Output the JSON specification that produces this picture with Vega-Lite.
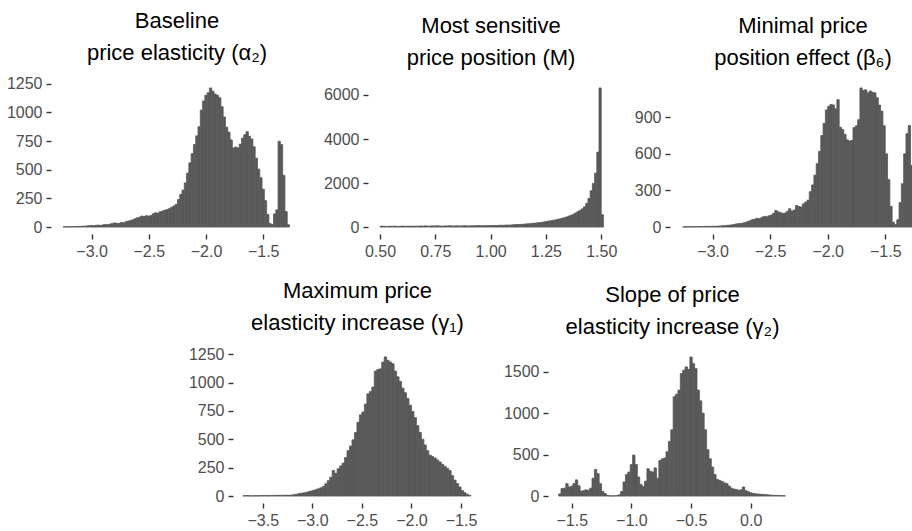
{
  "$schema": "https://vega.github.io/schema/vega-lite/v6.json",
  "background": "white",
  "padding": {"left": 6, "top": 9, "right": 0, "bottom": 0},
  "spacing": 269,
  "bounds": "flush",
  "datasets": {
    "p1": [
      {"a":-3.25,"b":-3.23,"n":3},{"a":-3.23,"b":-3.21,"n":2},{"a":-3.21,"b":-3.19,"n":4},{"a":-3.19,"b":-3.17,"n":3},{"a":-3.17,"b":-3.15,"n":5},
      {"a":-3.15,"b":-3.13,"n":4},{"a":-3.13,"b":-3.11,"n":6},{"a":-3.11,"b":-3.09,"n":5},{"a":-3.09,"b":-3.07,"n":8},{"a":-3.07,"b":-3.05,"n":7},
      {"a":-3.05,"b":-3.03,"n":10},{"a":-3.03,"b":-3.01,"n":12},{"a":-3.01,"b":-2.99,"n":14},{"a":-2.99,"b":-2.97,"n":11},{"a":-2.97,"b":-2.95,"n":15},
      {"a":-2.95,"b":-2.93,"n":17},{"a":-2.93,"b":-2.91,"n":14},{"a":-2.91,"b":-2.89,"n":19},{"a":-2.89,"b":-2.87,"n":22},{"a":-2.87,"b":-2.85,"n":20},
      {"a":-2.85,"b":-2.83,"n":26},{"a":-2.83,"b":-2.81,"n":30},{"a":-2.81,"b":-2.79,"n":36},{"a":-2.79,"b":-2.77,"n":33},{"a":-2.77,"b":-2.75,"n":31},
      {"a":-2.75,"b":-2.73,"n":40},{"a":-2.73,"b":-2.71,"n":37},{"a":-2.71,"b":-2.69,"n":46},{"a":-2.69,"b":-2.67,"n":52},{"a":-2.67,"b":-2.65,"n":56},
      {"a":-2.65,"b":-2.63,"n":63},{"a":-2.63,"b":-2.61,"n":72},{"a":-2.61,"b":-2.59,"n":80},{"a":-2.59,"b":-2.57,"n":86},{"a":-2.57,"b":-2.55,"n":96},
      {"a":-2.55,"b":-2.53,"n":92},{"a":-2.53,"b":-2.51,"n":99},{"a":-2.51,"b":-2.49,"n":95},{"a":-2.49,"b":-2.47,"n":101},{"a":-2.47,"b":-2.45,"n":116},
      {"a":-2.45,"b":-2.43,"n":124},{"a":-2.43,"b":-2.41,"n":121},{"a":-2.41,"b":-2.39,"n":133},{"a":-2.39,"b":-2.37,"n":140},{"a":-2.37,"b":-2.35,"n":147},
      {"a":-2.35,"b":-2.33,"n":152},{"a":-2.33,"b":-2.31,"n":160},{"a":-2.31,"b":-2.29,"n":172},{"a":-2.29,"b":-2.27,"n":184},{"a":-2.27,"b":-2.25,"n":198},
      {"a":-2.25,"b":-2.23,"n":240},{"a":-2.23,"b":-2.21,"n":285},{"a":-2.21,"b":-2.19,"n":322},{"a":-2.19,"b":-2.17,"n":385},{"a":-2.17,"b":-2.15,"n":470},
      {"a":-2.15,"b":-2.13,"n":560},{"a":-2.13,"b":-2.11,"n":640},{"a":-2.11,"b":-2.09,"n":720},{"a":-2.09,"b":-2.07,"n":795},{"a":-2.07,"b":-2.05,"n":875},
      {"a":-2.05,"b":-2.03,"n":1020},{"a":-2.03,"b":-2.01,"n":1100},{"a":-2.01,"b":-1.99,"n":1150},{"a":-1.99,"b":-1.97,"n":1172},{"a":-1.97,"b":-1.95,"n":1213},
      {"a":-1.95,"b":-1.93,"n":1185},{"a":-1.93,"b":-1.91,"n":1160},{"a":-1.91,"b":-1.89,"n":1150},{"a":-1.89,"b":-1.87,"n":1128},{"a":-1.87,"b":-1.85,"n":1050},
      {"a":-1.85,"b":-1.83,"n":960},{"a":-1.83,"b":-1.81,"n":870},{"a":-1.81,"b":-1.79,"n":828},{"a":-1.79,"b":-1.77,"n":760},{"a":-1.77,"b":-1.75,"n":690},
      {"a":-1.75,"b":-1.73,"n":698},{"a":-1.73,"b":-1.71,"n":690},{"a":-1.71,"b":-1.69,"n":722},{"a":-1.69,"b":-1.67,"n":775},{"a":-1.67,"b":-1.65,"n":805},
      {"a":-1.65,"b":-1.63,"n":832},{"a":-1.63,"b":-1.61,"n":792},{"a":-1.61,"b":-1.59,"n":768},{"a":-1.59,"b":-1.57,"n":700},{"a":-1.57,"b":-1.55,"n":600},
      {"a":-1.55,"b":-1.53,"n":505},{"a":-1.53,"b":-1.51,"n":430},{"a":-1.51,"b":-1.49,"n":330},{"a":-1.49,"b":-1.47,"n":230},{"a":-1.47,"b":-1.45,"n":110},
      {"a":-1.45,"b":-1.43,"n":30},{"a":-1.43,"b":-1.41,"n":22},{"a":-1.41,"b":-1.39,"n":115},{"a":-1.39,"b":-1.37,"n":150},{"a":-1.37,"b":-1.35,"n":748},
      {"a":-1.35,"b":-1.33,"n":720},{"a":-1.33,"b":-1.31,"n":450},{"a":-1.31,"b":-1.29,"n":135},{"a":-1.29,"b":-1.27,"n":20}
    ],
    "p2": [
      {"a":0.50,"b":0.51,"n":35},{"a":0.51,"b":0.52,"n":40},{"a":0.52,"b":0.53,"n":30},{"a":0.53,"b":0.54,"n":25},{"a":0.54,"b":0.55,"n":38},
      {"a":0.55,"b":0.56,"n":30},{"a":0.56,"b":0.57,"n":42},{"a":0.57,"b":0.58,"n":35},{"a":0.58,"b":0.59,"n":28},{"a":0.59,"b":0.60,"n":40},
      {"a":0.60,"b":0.61,"n":45},{"a":0.61,"b":0.62,"n":33},{"a":0.62,"b":0.63,"n":38},{"a":0.63,"b":0.64,"n":40},{"a":0.64,"b":0.65,"n":35},
      {"a":0.65,"b":0.66,"n":45},{"a":0.66,"b":0.67,"n":38},{"a":0.67,"b":0.68,"n":42},{"a":0.68,"b":0.69,"n":50},{"a":0.69,"b":0.70,"n":40},
      {"a":0.70,"b":0.71,"n":55},{"a":0.71,"b":0.72,"n":45},{"a":0.72,"b":0.73,"n":40},{"a":0.73,"b":0.74,"n":52},{"a":0.74,"b":0.75,"n":48},
      {"a":0.75,"b":0.76,"n":60},{"a":0.76,"b":0.77,"n":50},{"a":0.77,"b":0.78,"n":45},{"a":0.78,"b":0.79,"n":40},{"a":0.79,"b":0.80,"n":55},
      {"a":0.80,"b":0.81,"n":48},{"a":0.81,"b":0.82,"n":62},{"a":0.82,"b":0.83,"n":50},{"a":0.83,"b":0.84,"n":45},{"a":0.84,"b":0.85,"n":58},
      {"a":0.85,"b":0.86,"n":52},{"a":0.86,"b":0.87,"n":48},{"a":0.87,"b":0.88,"n":55},{"a":0.88,"b":0.89,"n":60},{"a":0.89,"b":0.90,"n":50},
      {"a":0.90,"b":0.91,"n":52},{"a":0.91,"b":0.92,"n":58},{"a":0.92,"b":0.93,"n":55},{"a":0.93,"b":0.94,"n":60},{"a":0.94,"b":0.95,"n":65},
      {"a":0.95,"b":0.96,"n":58},{"a":0.96,"b":0.97,"n":62},{"a":0.97,"b":0.98,"n":60},{"a":0.98,"b":0.99,"n":66},{"a":0.99,"b":1.00,"n":68},
      {"a":1.00,"b":1.01,"n":70},{"a":1.01,"b":1.02,"n":72},{"a":1.02,"b":1.03,"n":68},{"a":1.03,"b":1.04,"n":75},{"a":1.04,"b":1.05,"n":80},
      {"a":1.05,"b":1.06,"n":78},{"a":1.06,"b":1.07,"n":85},{"a":1.07,"b":1.08,"n":90},{"a":1.08,"b":1.09,"n":88},{"a":1.09,"b":1.10,"n":95},
      {"a":1.10,"b":1.11,"n":105},{"a":1.11,"b":1.12,"n":110},{"a":1.12,"b":1.13,"n":115},{"a":1.13,"b":1.14,"n":120},{"a":1.14,"b":1.15,"n":128},
      {"a":1.15,"b":1.16,"n":135},{"a":1.16,"b":1.17,"n":145},{"a":1.17,"b":1.18,"n":150},{"a":1.18,"b":1.19,"n":160},{"a":1.19,"b":1.20,"n":170},
      {"a":1.20,"b":1.21,"n":180},{"a":1.21,"b":1.22,"n":195},{"a":1.22,"b":1.23,"n":205},{"a":1.23,"b":1.24,"n":220},{"a":1.24,"b":1.25,"n":235},
      {"a":1.25,"b":1.26,"n":260},{"a":1.26,"b":1.27,"n":275},{"a":1.27,"b":1.28,"n":290},{"a":1.28,"b":1.29,"n":310},{"a":1.29,"b":1.30,"n":330},
      {"a":1.30,"b":1.31,"n":350},{"a":1.31,"b":1.32,"n":375},{"a":1.32,"b":1.33,"n":400},{"a":1.33,"b":1.34,"n":430},{"a":1.34,"b":1.35,"n":460},
      {"a":1.35,"b":1.36,"n":500},{"a":1.36,"b":1.37,"n":540},{"a":1.37,"b":1.38,"n":580},{"a":1.38,"b":1.39,"n":640},{"a":1.39,"b":1.40,"n":700},
      {"a":1.40,"b":1.41,"n":760},{"a":1.41,"b":1.42,"n":830},{"a":1.42,"b":1.43,"n":920},{"a":1.43,"b":1.44,"n":1080},{"a":1.44,"b":1.45,"n":1300},
      {"a":1.45,"b":1.46,"n":1650},{"a":1.46,"b":1.47,"n":1980},{"a":1.47,"b":1.48,"n":2450},{"a":1.48,"b":1.49,"n":3400},{"a":1.49,"b":1.50,"n":6320},
      {"a":1.50,"b":1.51,"n":560}
    ],
    "p3": [
      {"a":-3.26,"b":-3.24,"n":2},{"a":-3.24,"b":-3.22,"n":3},{"a":-3.22,"b":-3.20,"n":2},{"a":-3.20,"b":-3.18,"n":3},{"a":-3.18,"b":-3.16,"n":4},
      {"a":-3.16,"b":-3.14,"n":3},{"a":-3.14,"b":-3.12,"n":4},{"a":-3.12,"b":-3.10,"n":5},{"a":-3.10,"b":-3.08,"n":4},{"a":-3.08,"b":-3.06,"n":5},
      {"a":-3.06,"b":-3.04,"n":6},{"a":-3.04,"b":-3.02,"n":5},{"a":-3.02,"b":-3.00,"n":6},{"a":-3.00,"b":-2.98,"n":7},{"a":-2.98,"b":-2.96,"n":6},
      {"a":-2.96,"b":-2.94,"n":8},{"a":-2.94,"b":-2.92,"n":9},{"a":-2.92,"b":-2.90,"n":11},{"a":-2.90,"b":-2.88,"n":12},{"a":-2.88,"b":-2.86,"n":14},
      {"a":-2.86,"b":-2.84,"n":16},{"a":-2.84,"b":-2.82,"n":18},{"a":-2.82,"b":-2.80,"n":22},{"a":-2.80,"b":-2.78,"n":26},{"a":-2.78,"b":-2.76,"n":28},
      {"a":-2.76,"b":-2.74,"n":30},{"a":-2.74,"b":-2.72,"n":34},{"a":-2.72,"b":-2.70,"n":40},{"a":-2.70,"b":-2.68,"n":46},{"a":-2.68,"b":-2.66,"n":54},
      {"a":-2.66,"b":-2.64,"n":60},{"a":-2.64,"b":-2.62,"n":66},{"a":-2.62,"b":-2.60,"n":72},{"a":-2.60,"b":-2.58,"n":68},{"a":-2.58,"b":-2.56,"n":80},
      {"a":-2.56,"b":-2.54,"n":88},{"a":-2.54,"b":-2.52,"n":84},{"a":-2.52,"b":-2.50,"n":92},{"a":-2.50,"b":-2.48,"n":98},{"a":-2.48,"b":-2.46,"n":112},
      {"a":-2.46,"b":-2.44,"n":136},{"a":-2.44,"b":-2.42,"n":125},{"a":-2.42,"b":-2.40,"n":118},{"a":-2.40,"b":-2.38,"n":112},{"a":-2.38,"b":-2.36,"n":115},
      {"a":-2.36,"b":-2.34,"n":128},{"a":-2.34,"b":-2.32,"n":150},{"a":-2.32,"b":-2.30,"n":132},{"a":-2.30,"b":-2.28,"n":140},{"a":-2.28,"b":-2.26,"n":176},
      {"a":-2.26,"b":-2.24,"n":168},{"a":-2.24,"b":-2.22,"n":165},{"a":-2.22,"b":-2.20,"n":190},{"a":-2.20,"b":-2.18,"n":205},{"a":-2.18,"b":-2.16,"n":220},
      {"a":-2.16,"b":-2.14,"n":290},{"a":-2.14,"b":-2.12,"n":345},{"a":-2.12,"b":-2.10,"n":425},{"a":-2.10,"b":-2.08,"n":520},{"a":-2.08,"b":-2.06,"n":620},
      {"a":-2.06,"b":-2.04,"n":750},{"a":-2.04,"b":-2.02,"n":850},{"a":-2.02,"b":-2.00,"n":960},{"a":-2.00,"b":-1.98,"n":990},{"a":-1.98,"b":-1.96,"n":1005},
      {"a":-1.96,"b":-1.94,"n":1000},{"a":-1.94,"b":-1.92,"n":968},{"a":-1.92,"b":-1.90,"n":1044},{"a":-1.90,"b":-1.88,"n":818},{"a":-1.88,"b":-1.86,"n":800},
      {"a":-1.86,"b":-1.84,"n":760},{"a":-1.84,"b":-1.82,"n":715},{"a":-1.82,"b":-1.80,"n":705},{"a":-1.80,"b":-1.78,"n":710},{"a":-1.78,"b":-1.76,"n":815},
      {"a":-1.76,"b":-1.74,"n":830},{"a":-1.74,"b":-1.72,"n":880},{"a":-1.72,"b":-1.70,"n":1140},{"a":-1.70,"b":-1.68,"n":1120},{"a":-1.68,"b":-1.66,"n":1125},
      {"a":-1.66,"b":-1.64,"n":1100},{"a":-1.64,"b":-1.62,"n":1115},{"a":-1.62,"b":-1.60,"n":1105},{"a":-1.60,"b":-1.58,"n":1100},{"a":-1.58,"b":-1.56,"n":1060},
      {"a":-1.56,"b":-1.54,"n":1000},{"a":-1.54,"b":-1.52,"n":950},{"a":-1.52,"b":-1.50,"n":830},{"a":-1.50,"b":-1.48,"n":600},{"a":-1.48,"b":-1.46,"n":390},
      {"a":-1.46,"b":-1.44,"n":170},{"a":-1.44,"b":-1.42,"n":40},{"a":-1.42,"b":-1.40,"n":20},{"a":-1.40,"b":-1.38,"n":60},{"a":-1.38,"b":-1.36,"n":200},
      {"a":-1.36,"b":-1.34,"n":355},{"a":-1.34,"b":-1.32,"n":600},{"a":-1.32,"b":-1.30,"n":765},{"a":-1.30,"b":-1.28,"n":832},{"a":-1.28,"b":-1.26,"n":505}
    ],
    "p4": [
      {"a":-3.700,"b":-3.675,"n":3},{"a":-3.675,"b":-3.650,"n":4},{"a":-3.650,"b":-3.625,"n":3},{"a":-3.625,"b":-3.600,"n":2},
      {"a":-3.600,"b":-3.575,"n":3},{"a":-3.575,"b":-3.550,"n":4},{"a":-3.550,"b":-3.525,"n":3},{"a":-3.525,"b":-3.500,"n":5},
      {"a":-3.500,"b":-3.475,"n":4},{"a":-3.475,"b":-3.450,"n":5},{"a":-3.450,"b":-3.425,"n":4},{"a":-3.425,"b":-3.400,"n":6},
      {"a":-3.400,"b":-3.375,"n":5},{"a":-3.375,"b":-3.350,"n":6},{"a":-3.350,"b":-3.325,"n":7},{"a":-3.325,"b":-3.300,"n":6},
      {"a":-3.300,"b":-3.275,"n":7},{"a":-3.275,"b":-3.250,"n":8},{"a":-3.250,"b":-3.225,"n":7},{"a":-3.225,"b":-3.200,"n":8},
      {"a":-3.200,"b":-3.175,"n":12},{"a":-3.175,"b":-3.150,"n":15},{"a":-3.150,"b":-3.125,"n":20},{"a":-3.125,"b":-3.100,"n":24},
      {"a":-3.100,"b":-3.075,"n":28},{"a":-3.075,"b":-3.050,"n":30},{"a":-3.050,"b":-3.025,"n":38},{"a":-3.025,"b":-3.000,"n":44},
      {"a":-3.000,"b":-2.975,"n":50},{"a":-2.975,"b":-2.950,"n":56},{"a":-2.950,"b":-2.925,"n":64},{"a":-2.925,"b":-2.900,"n":72},
      {"a":-2.900,"b":-2.875,"n":84},{"a":-2.875,"b":-2.850,"n":108},{"a":-2.850,"b":-2.825,"n":135},{"a":-2.825,"b":-2.800,"n":165},
      {"a":-2.800,"b":-2.775,"n":225},{"a":-2.775,"b":-2.750,"n":200},{"a":-2.750,"b":-2.725,"n":240},{"a":-2.725,"b":-2.700,"n":265},
      {"a":-2.700,"b":-2.675,"n":290},{"a":-2.675,"b":-2.650,"n":340},{"a":-2.650,"b":-2.625,"n":400},{"a":-2.625,"b":-2.600,"n":440},
      {"a":-2.600,"b":-2.575,"n":495},{"a":-2.575,"b":-2.550,"n":560},{"a":-2.550,"b":-2.525,"n":650},{"a":-2.525,"b":-2.500,"n":715},
      {"a":-2.500,"b":-2.475,"n":740},{"a":-2.475,"b":-2.450,"n":810},{"a":-2.450,"b":-2.425,"n":900},{"a":-2.425,"b":-2.400,"n":920},
      {"a":-2.400,"b":-2.375,"n":960},{"a":-2.375,"b":-2.350,"n":1100},{"a":-2.350,"b":-2.325,"n":1115},{"a":-2.325,"b":-2.300,"n":1120},
      {"a":-2.300,"b":-2.275,"n":1180},{"a":-2.275,"b":-2.250,"n":1225},{"a":-2.250,"b":-2.225,"n":1195},{"a":-2.225,"b":-2.200,"n":1180},
      {"a":-2.200,"b":-2.175,"n":1165},{"a":-2.175,"b":-2.150,"n":1100},{"a":-2.150,"b":-2.125,"n":1050},{"a":-2.125,"b":-2.100,"n":1010},
      {"a":-2.100,"b":-2.075,"n":950},{"a":-2.075,"b":-2.050,"n":910},{"a":-2.050,"b":-2.025,"n":860},{"a":-2.025,"b":-2.000,"n":800},
      {"a":-2.000,"b":-1.975,"n":745},{"a":-1.975,"b":-1.950,"n":690},{"a":-1.950,"b":-1.925,"n":620},{"a":-1.925,"b":-1.900,"n":560},
      {"a":-1.900,"b":-1.875,"n":500},{"a":-1.875,"b":-1.850,"n":450},{"a":-1.850,"b":-1.825,"n":400},{"a":-1.825,"b":-1.800,"n":360},
      {"a":-1.800,"b":-1.775,"n":348},{"a":-1.775,"b":-1.750,"n":335},{"a":-1.750,"b":-1.725,"n":318},{"a":-1.725,"b":-1.700,"n":300},
      {"a":-1.700,"b":-1.675,"n":280},{"a":-1.675,"b":-1.650,"n":262},{"a":-1.650,"b":-1.625,"n":245},{"a":-1.625,"b":-1.600,"n":225},
      {"a":-1.600,"b":-1.575,"n":180},{"a":-1.575,"b":-1.550,"n":140},{"a":-1.550,"b":-1.525,"n":110},{"a":-1.525,"b":-1.500,"n":80},
      {"a":-1.500,"b":-1.475,"n":48},{"a":-1.475,"b":-1.450,"n":30},{"a":-1.450,"b":-1.425,"n":16},{"a":-1.425,"b":-1.400,"n":6}
    ],
    "p5": [
      {"a":-1.61,"b":-1.59,"n":25},{"a":-1.59,"b":-1.57,"n":90},{"a":-1.57,"b":-1.55,"n":95},{"a":-1.55,"b":-1.53,"n":150},{"a":-1.53,"b":-1.51,"n":110},
      {"a":-1.51,"b":-1.49,"n":120},{"a":-1.49,"b":-1.47,"n":150},{"a":-1.47,"b":-1.45,"n":195},{"a":-1.45,"b":-1.43,"n":125},{"a":-1.43,"b":-1.41,"n":60},
      {"a":-1.41,"b":-1.39,"n":65},{"a":-1.39,"b":-1.37,"n":75},{"a":-1.37,"b":-1.35,"n":70},{"a":-1.35,"b":-1.33,"n":95},{"a":-1.33,"b":-1.31,"n":215},
      {"a":-1.31,"b":-1.29,"n":322},{"a":-1.29,"b":-1.27,"n":270},{"a":-1.27,"b":-1.25,"n":150},{"a":-1.25,"b":-1.23,"n":55},{"a":-1.23,"b":-1.21,"n":30},
      {"a":-1.21,"b":-1.19,"n":10},{"a":-1.19,"b":-1.17,"n":3},{"a":-1.17,"b":-1.15,"n":2},{"a":-1.15,"b":-1.13,"n":3},{"a":-1.13,"b":-1.11,"n":5},
      {"a":-1.11,"b":-1.09,"n":15},{"a":-1.09,"b":-1.07,"n":55},{"a":-1.07,"b":-1.05,"n":170},{"a":-1.05,"b":-1.03,"n":260},{"a":-1.03,"b":-1.01,"n":290},
      {"a":-1.01,"b":-0.99,"n":380},{"a":-0.99,"b":-0.97,"n":495},{"a":-0.97,"b":-0.95,"n":380},{"a":-0.95,"b":-0.93,"n":230},{"a":-0.93,"b":-0.91,"n":140},
      {"a":-0.91,"b":-0.89,"n":115},{"a":-0.89,"b":-0.87,"n":180},{"a":-0.87,"b":-0.85,"n":330},{"a":-0.85,"b":-0.83,"n":300},{"a":-0.83,"b":-0.81,"n":290},
      {"a":-0.81,"b":-0.79,"n":340},{"a":-0.79,"b":-0.77,"n":215},{"a":-0.77,"b":-0.75,"n":430},{"a":-0.75,"b":-0.73,"n":450},{"a":-0.73,"b":-0.71,"n":460},
      {"a":-0.71,"b":-0.69,"n":535},{"a":-0.69,"b":-0.67,"n":660},{"a":-0.67,"b":-0.65,"n":800},{"a":-0.65,"b":-0.63,"n":1200},{"a":-0.63,"b":-0.61,"n":1230},
      {"a":-0.61,"b":-0.59,"n":1280},{"a":-0.59,"b":-0.57,"n":1480},{"a":-0.57,"b":-0.55,"n":1520},{"a":-0.55,"b":-0.53,"n":1560},{"a":-0.53,"b":-0.51,"n":1530},
      {"a":-0.51,"b":-0.49,"n":1680},{"a":-0.49,"b":-0.47,"n":1600},{"a":-0.47,"b":-0.45,"n":1540},{"a":-0.45,"b":-0.43,"n":1280},{"a":-0.43,"b":-0.41,"n":1150},
      {"a":-0.41,"b":-0.39,"n":1000},{"a":-0.39,"b":-0.37,"n":800},{"a":-0.37,"b":-0.35,"n":560},{"a":-0.35,"b":-0.33,"n":450},{"a":-0.33,"b":-0.31,"n":350},
      {"a":-0.31,"b":-0.29,"n":260},{"a":-0.29,"b":-0.27,"n":200},{"a":-0.27,"b":-0.25,"n":190},{"a":-0.25,"b":-0.23,"n":175},{"a":-0.23,"b":-0.21,"n":160},
      {"a":-0.21,"b":-0.19,"n":150},{"a":-0.19,"b":-0.17,"n":120},{"a":-0.17,"b":-0.15,"n":95},{"a":-0.15,"b":-0.13,"n":85},{"a":-0.13,"b":-0.11,"n":80},
      {"a":-0.11,"b":-0.09,"n":70},{"a":-0.09,"b":-0.07,"n":75},{"a":-0.07,"b":-0.05,"n":110},{"a":-0.05,"b":-0.03,"n":65},{"a":-0.03,"b":-0.01,"n":52},
      {"a":-0.01,"b":0.01,"n":40},{"a":0.01,"b":0.03,"n":32},{"a":0.03,"b":0.05,"n":28},{"a":0.05,"b":0.07,"n":24},{"a":0.07,"b":0.09,"n":22},
      {"a":0.09,"b":0.11,"n":20},{"a":0.11,"b":0.13,"n":18},{"a":0.13,"b":0.15,"n":15},{"a":0.15,"b":0.17,"n":12},{"a":0.17,"b":0.19,"n":10},
      {"a":0.19,"b":0.21,"n":8},{"a":0.21,"b":0.23,"n":8},{"a":0.23,"b":0.25,"n":6},{"a":0.25,"b":0.27,"n":5},{"a":0.27,"b":0.29,"n":4}
    ]
  },
  "vconcat": [
    {
      "hconcat": [
        {
          "width": 261, "height": 153,
          "title": {"text": ["Baseline", "price elasticity (α₂)"], "dx": -4.5},
          "data": {"name": "p1"},
          "mark": {"type": "bar", "fill": "#595959", "stroke": "#595959", "strokeWidth": 0.8},
          "encoding": {
            "x": {"field": "a", "type": "quantitative", "title": null, "scale": {"domain": [-3.355, -1.0735], "nice": false, "zero": false}, "axis": {"values": [-3, -2.5, -2, -1.5], "format": ".1f"}},
            "x2": {"field": "b"},
            "y": {"field": "n", "type": "quantitative", "title": null, "scale": {"domain": [-60.65, 1273.65], "nice": false, "zero": false}, "axis": {"values": [0, 250, 500, 750, 1000, 1250], "format": "d"}},
            "y2": {"datum": 0}
          }
        },
        {
          "width": 246, "height": 153,
          "title": {"text": ["Most sensitive", "price position (M)"]},
          "data": {"name": "p2"},
          "mark": {"type": "bar", "fill": "#595959", "stroke": "#595959", "strokeWidth": 0.8},
          "encoding": {
            "x": {"field": "a", "type": "quantitative", "title": null, "scale": {"domain": [0.4457, 1.5578], "nice": false, "zero": false}, "axis": {"values": [0.5, 0.75, 1, 1.25, 1.5], "format": ".2f"}},
            "x2": {"field": "b"},
            "y": {"field": "n", "type": "quantitative", "title": null, "scale": {"domain": [-316, 6636], "nice": false, "zero": false}, "axis": {"values": [0, 2000, 4000, 6000], "format": "d"}},
            "y2": {"datum": 0}
          }
        },
        {
          "width": 242, "height": 153,
          "title": {"text": ["Minimal price", "position effect (β₆)"], "dx": 12},
          "data": {"name": "p3"},
          "mark": {"type": "bar", "fill": "#595959", "stroke": "#595959", "strokeWidth": 0.8, "clip": true},
          "encoding": {
            "x": {"field": "a", "type": "quantitative", "title": null, "scale": {"domain": [-3.37, -1.2675], "nice": false, "zero": false}, "axis": {"values": [-3, -2.5, -2, -1.5], "format": ".1f"}},
            "x2": {"field": "b"},
            "y": {"field": "n", "type": "quantitative", "title": null, "scale": {"domain": [-57, 1197], "nice": false, "zero": false}, "axis": {"values": [0, 300, 600, 900], "format": "d"}},
            "y2": {"datum": 0}
          }
        }
      ],
      "spacing": 56,
      "bounds": "flush"
    },
    {
      "hconcat": [
        {
          "width": 116, "height": 153,
          "data": {"values": [{}]},
          "mark": {"type": "rule", "opacity": 0},
          "encoding": {}
        },
        {
          "width": 249, "height": 153,
          "title": {"text": ["Maximum price", "elasticity increase (γ₁)"]},
          "data": {"name": "p4"},
          "mark": {"type": "bar", "fill": "#595959", "stroke": "#595959", "strokeWidth": 0.8},
          "encoding": {
            "x": {"field": "a", "type": "quantitative", "title": null, "scale": {"domain": [-3.8, -1.2886], "nice": false, "zero": false}, "axis": {"values": [-3.5, -3, -2.5, -2, -1.5], "format": ".1f"}},
            "x2": {"field": "b"},
            "y": {"field": "n", "type": "quantitative", "title": null, "scale": {"domain": [-61.25, 1286.25], "nice": false, "zero": false}, "axis": {"values": [0, 250, 500, 750, 1000, 1250], "format": "d"}},
            "y2": {"datum": 0}
          }
        },
        {
          "width": 249, "height": 153,
          "title": {"text": ["Slope of price", "elasticity increase (γ₂)"]},
          "data": {"name": "p5"},
          "mark": {"type": "bar", "fill": "#595959", "stroke": "#595959", "strokeWidth": 0.8},
          "encoding": {
            "x": {"field": "a", "type": "quantitative", "title": null, "scale": {"domain": [-1.699, 0.388], "nice": false, "zero": false}, "axis": {"values": [-1.5, -1, -0.5, 0], "format": ".1f"}},
            "x2": {"field": "b"},
            "y": {"field": "n", "type": "quantitative", "title": null, "scale": {"domain": [-84, 1764], "nice": false, "zero": false}, "axis": {"values": [0, 500, 1000, 1500], "format": "d"}},
            "y2": {"datum": 0}
          }
        }
      ],
      "spacing": 66,
      "bounds": "flush"
    }
  ],
  "config": {
    "view": {"stroke": null},
    "font": "Liberation Sans",
    "axis": {"domain": false, "grid": false, "ticks": true, "tickColor": "#333333", "tickWidth": 1.4, "tickSize": 5, "labelFont": "Liberation Sans", "labelFontSize": 16, "labelColor": "#4D4D4D", "labelFlush": false, "labelOverlap": false, "labelBound": false},
    "axisX": {"labelPadding": 4},
    "axisY": {"labelPadding": 4},
    "title": {"font": "Liberation Sans", "fontSize": 22, "fontWeight": "normal", "color": "#000000", "lineHeight": 32, "anchor": "middle", "frame": "group", "offset": 11}
  }
}
